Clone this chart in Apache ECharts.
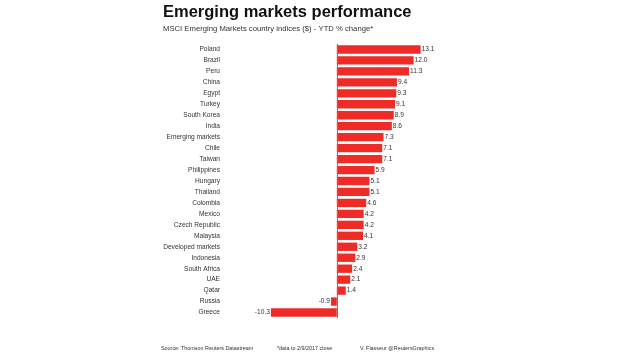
<!DOCTYPE html>
<html>
<head>
<meta charset="utf-8">
<script src="https://cdn.jsdelivr.net/npm/echarts@6/dist/echarts.min.js"></script>
<style>
  html, body { margin: 0; padding: 0; background: #fff; }
  #chart { width: 620px; height: 354px; }
</style>
</head>
<body>
<div id="chart"></div>
<script>
// country names, top to bottom
var countries = ['Poland', 'Brazil', 'Peru', 'China', 'Egypt', 'Turkey', 'South Korea', 'India',
  'Emerging markets', 'Chile', 'Taiwan', 'Philippines', 'Hungary', 'Thailand', 'Colombia', 'Mexico',
  'Czech Republic', 'Malaysia', 'Developed markets', 'Indonesia', 'South Africa', 'UAE', 'Qatar',
  'Russia', 'Greece'];
// YTD % change
var ytd = [13.1, 12.0, 11.3, 9.4, 9.3, 9.1, 8.9, 8.6, 7.3, 7.1, 7.1, 5.9, 5.1, 5.1, 4.6, 4.2,
  4.2, 4.1, 3.2, 2.9, 2.4, 2.1, 1.4, -0.9, -10.3];

var chart = echarts.init(document.getElementById('chart'));

var barData = ytd.map(function (v) {
  if (v < 0) {
    return { value: v, label: { position: 'left' } };
  }
  return v;
});

var font = 'Liberation Sans';

var option = {
  backgroundColor: '#ffffff',
  animation: false,
  title: [{
    text: 'Emerging markets performance',
    left: 158, top: -1,
    textStyle: { fontFamily: font, fontWeight: 'bold', fontSize: 16.5, color: '#111' }
  }, {
    text: 'MSCI Emerging Markets country indices ($) - YTD % change*',
    left: 158, top: 20,
    textStyle: { fontFamily: font, fontWeight: 'normal', fontSize: 7.7, color: '#333' }
  }, {
    text: 'Source: Thomson Reuters Datastream',
    left: 156, top: 341,
    textStyle: { fontFamily: font, fontWeight: 'normal', fontSize: 5.4, color: '#333' }
  }, {
    text: '*data to 2/9/2017 close',
    left: 272, top: 341,
    textStyle: { fontFamily: font, fontWeight: 'normal', fontSize: 5.4, color: '#333' }
  }, {
    text: 'V. Flasseur @ReutersGraphics',
    left: 355, top: 341,
    textStyle: { fontFamily: font, fontWeight: 'normal', fontSize: 5.4, color: '#333' }
  }],
  grid: { left: 260, top: 44, width: 166.4, height: 274 },
  xAxis: {
    type: 'value', min: -12, max: 14, show: false
  },
  yAxis: {
    type: 'category', data: countries, inverse: true,
    axisLine: { show: false }, axisTick: { show: false },
    axisLabel: { margin: 40, fontFamily: font, fontSize: 6.6, color: '#333' }
  },
  series: [{
    type: 'bar',
    data: barData,
    barCategoryGap: '24%',
    itemStyle: { color: '#ee2b27' },
    label: {
      show: true, position: 'right', distance: 1,
      fontFamily: font, fontSize: 6.6, color: '#333',
      formatter: function (p) { return p.value.toFixed(1); }
    },
    markLine: {
      silent: true, symbol: 'none', label: { show: false },
      lineStyle: { color: '#777', width: 1, type: 'solid' },
      data: [{ xAxis: 0 }]
    }
  }]
};

chart.setOption(option);
</script>
</body>
</html>
